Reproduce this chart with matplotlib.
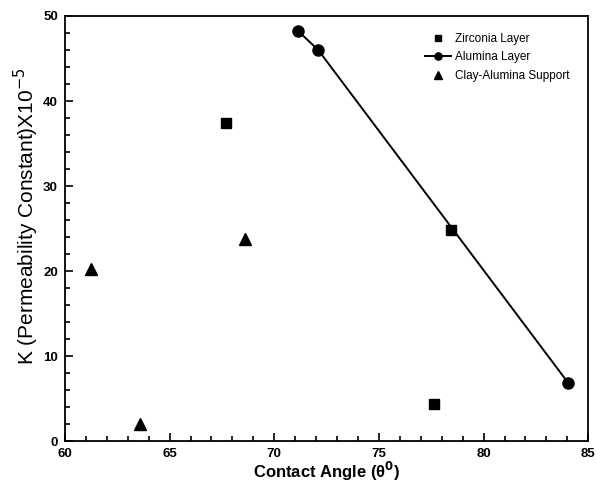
import matplotlib
matplotlib.use('Agg')
import matplotlib.pyplot as plt
from matplotlib.ticker import MultipleLocator

plt.rcParams['font.family'] = ['Liberation Sans', 'DejaVu Sans']

# data
zirconia_x = [67.7, 78.45, 77.65]
zirconia_y = [37.4, 24.9, 4.4]
alumina_x = [71.15, 72.1, 84.05]
alumina_y = [48.2, 46.0, 6.85]
clay_x = [61.25, 63.6, 68.6]
clay_y = [20.3, 2.0, 23.8]

fig = plt.figure(figsize=(5.96, 4.84), dpi=100)
ax = fig.add_axes([0.109, 0.088, 0.878, 0.879])

ax.plot(zirconia_x, zirconia_y, 's', color='black', markersize=7.5, label='Zirconia Layer')
ax.plot(alumina_x, alumina_y, 'o-', color='black', markersize=8, linewidth=1.4, label='Alumina Layer')
ax.plot(clay_x, clay_y, '^', color='black', markersize=8.5, label='Clay-Alumina Support')

ax.set_xlim(60, 85)
ax.set_ylim(0, 50)
ax.xaxis.set_major_locator(MultipleLocator(5))
ax.xaxis.set_minor_locator(MultipleLocator(1))
ax.yaxis.set_major_locator(MultipleLocator(10))
ax.yaxis.set_minor_locator(MultipleLocator(2))
ax.tick_params(which='both', direction='in', top=False, right=False, width=1.2)
ax.tick_params(which='major', length=6, labelsize=9.5, pad=5)
ax.tick_params(which='minor', length=3.5)
for lab in ax.get_xticklabels() + ax.get_yticklabels():
    lab.set_fontweight('bold')
for sp in ax.spines.values():
    sp.set_linewidth(1.3)

ax.set_xlabel(r'Contact Angle (θ$^\mathbf{0}$)', fontsize=12, fontweight='bold', labelpad=0)
ax.set_ylabel(r'K (Permeability Constant)X10$^{-5}$', fontsize=15)
ax.yaxis.set_label_coords(-0.046, 0.53)

ax.legend(loc='upper right', bbox_to_anchor=(0.985, 0.985), frameon=False, fontsize=8.5,
          handlelength=2.2, handletextpad=0.4, labelspacing=0.55, markerscale=0.65)

fig.savefig('out.png', dpi=100)
